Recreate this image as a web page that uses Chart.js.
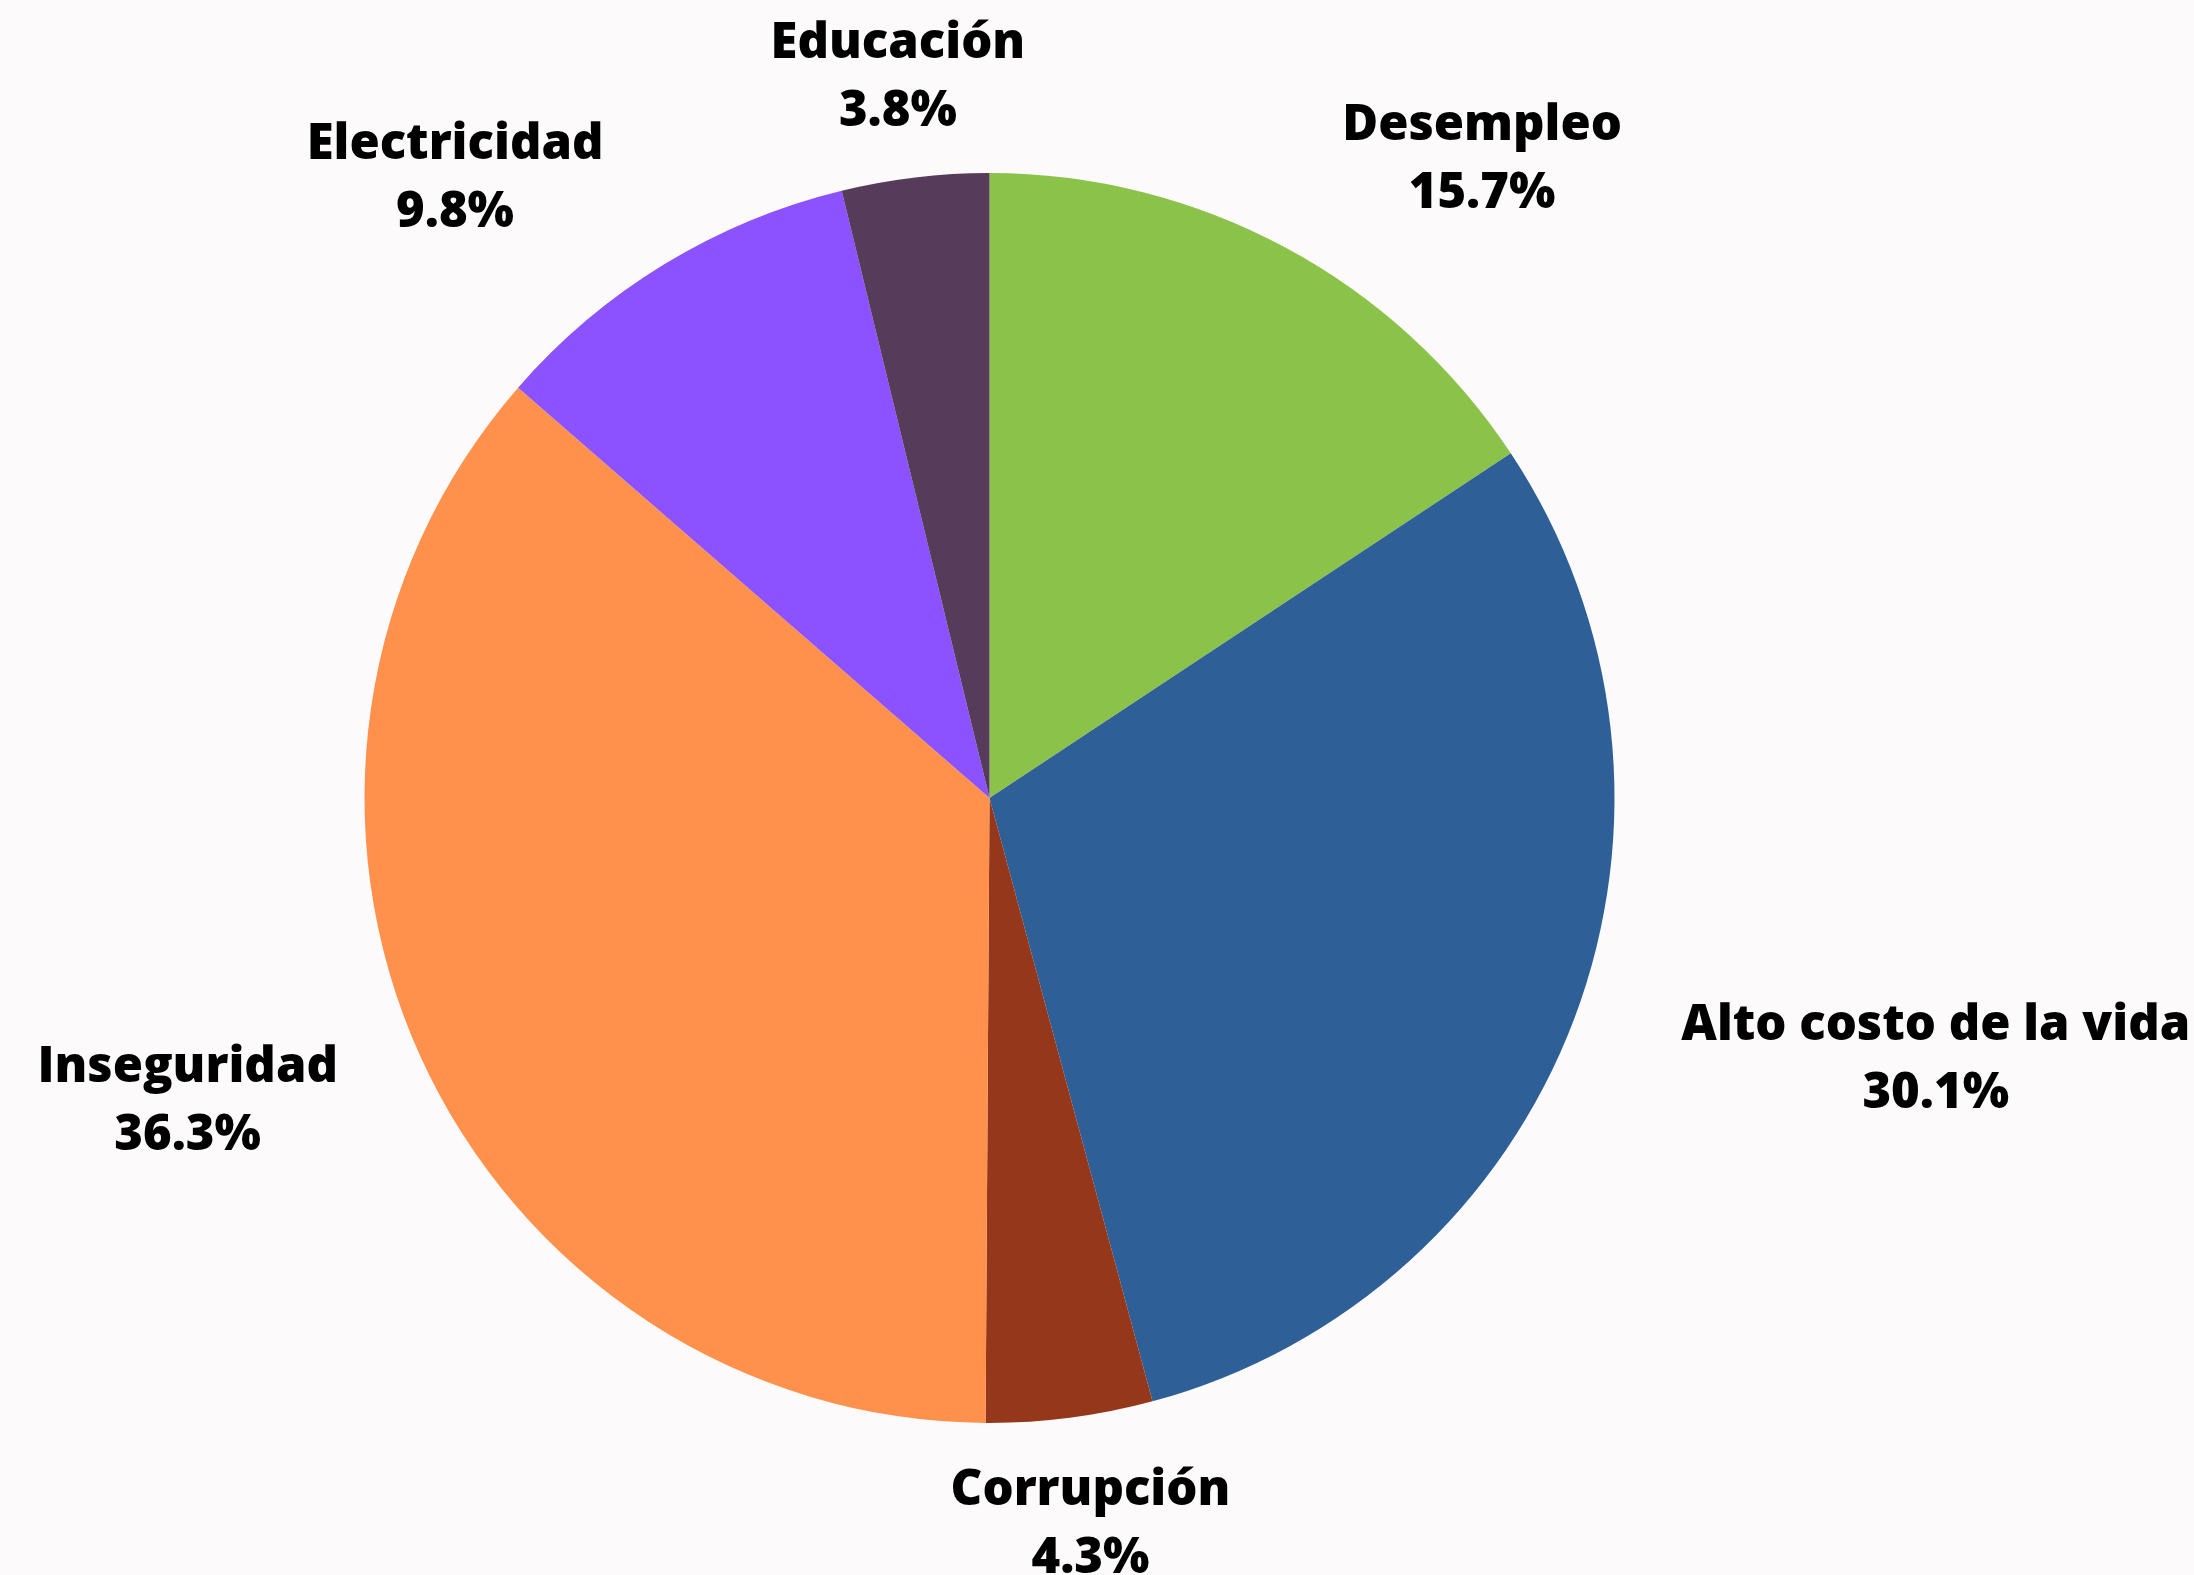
<!DOCTYPE html>
<html>
<head>
<meta charset="utf-8">
<script src="https://cdn.jsdelivr.net/npm/chart.js@4.4.1/dist/chart.umd.min.js"></script>
<style>
  html, body { margin: 0; padding: 0; background: #fdfafb; }
  #wrap { width: 2194px; height: 1575px; position: relative; }
</style>
</head>
<body>
<div id="wrap"><canvas id="chart"></canvas></div>
<script>
const labels = ['Desempleo', 'Alto costo de la vida', 'Corrupción', 'Inseguridad', 'Electricidad', 'Educación'];
const values = [15.7, 30.1, 4.3, 36.3, 9.8, 3.8];
const colors = ['#8bc34a', '#2e6097', '#94371b', '#ff914d', '#8c52ff', '#573b5b'];

// labels outside the pie, two lines: name + percent
const outsideLabels = {
    id: 'outsideLabels',
    afterDraw(chart) {
        const ctx = chart.ctx;
        const arcs = chart.getDatasetMeta(0).data;
        const lineGap = 68;
        const halfH = 52;
        ctx.save();
        ctx.font = '800 49px "Open Sans"';
        ctx.fillStyle = '#000';
        ctx.textAlign = 'center';
        ctx.textBaseline = 'alphabetic';
        arcs.forEach((arc, i) => {
            const mid = (arc.startAngle + arc.endAngle) / 2;
            const dx = Math.cos(mid), dy = Math.sin(mid);
            const r = arc.outerRadius + 52;
            const text1 = labels[i];
            const text2 = values[i].toFixed(1) + '%';
            const halfW = Math.max(ctx.measureText(text1).width, ctx.measureText(text2).width) / 2;
            const k = Math.min(1, Math.pow(Math.abs(dx) / 0.45, 2));
            const cx = arc.x + dx * r + Math.sign(dx) * k * halfW * 1.23;
            const cy = arc.y + dy * r + dy * halfH;
            const base = cy - 16;
            ctx.fillText(text1, cx, base);
            ctx.fillText(text2, cx, base + lineGap);
        });
        ctx.restore();
    }
};

const ctx = document.getElementById('chart').getContext('2d');

const chart = new Chart(ctx, {
    type: 'pie',
    data: {
        labels,
        datasets: [{
            data: values,
            backgroundColor: colors,
            borderWidth: 0
        }]
    },
    options: {
        responsive: true,
        maintainAspectRatio: false,
        animation: false,
        layout: { padding: { top: 173, bottom: 152, left: 300, right: 515 } },
        plugins: {
            legend: { display: false },
            tooltip: { enabled: false }
        }
    },
    plugins: [outsideLabels]
});
</script>
</body>
</html>
